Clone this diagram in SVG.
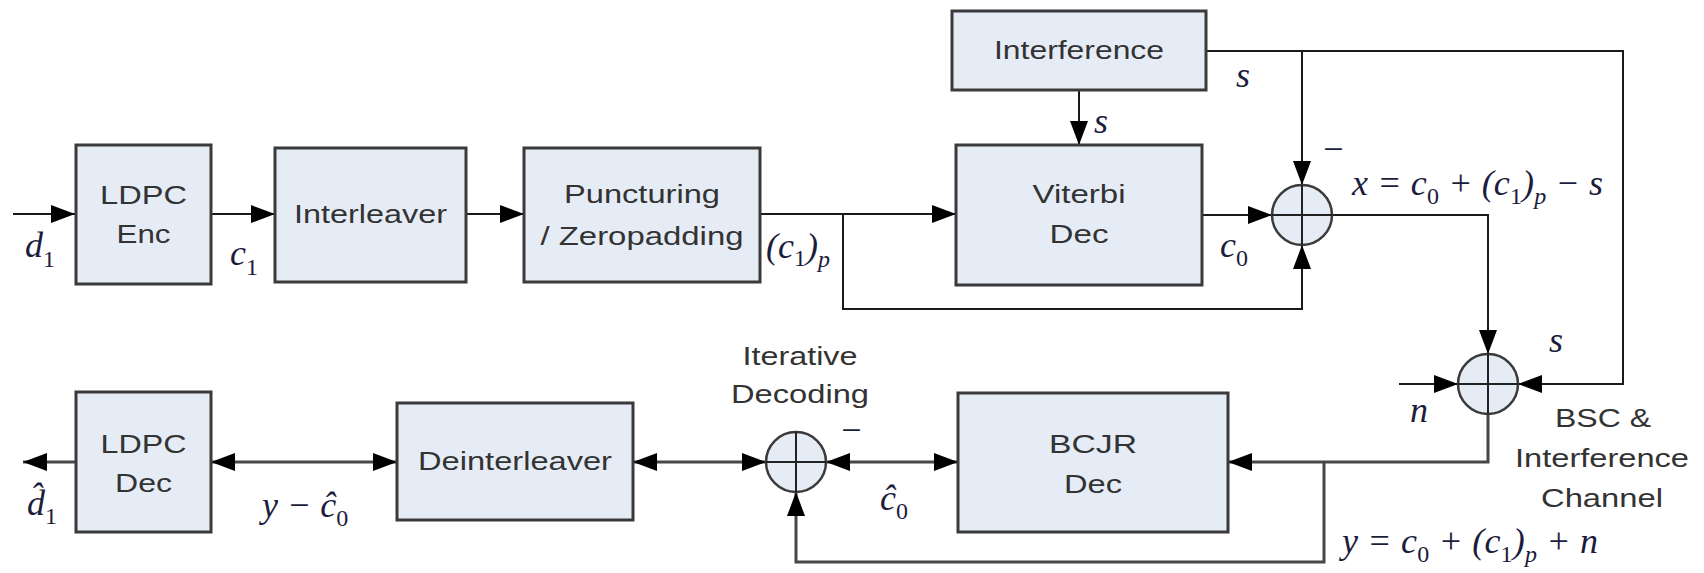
<svg xmlns="http://www.w3.org/2000/svg" width="1704" height="573" viewBox="0 0 1704 573">
  <style>
    .box { fill:#e6ecf6; stroke:#3a3a3a; stroke-width:3; }
    .sum { fill:#e6ecf6; stroke:#3a3a3a; stroke-width:2.5; }
    .x { stroke:#222; stroke-width:2; fill:none; }
    .lbl { font-family:"Liberation Sans", Arial, sans-serif; font-size:26px; fill:#333; text-anchor:middle; }
    .m { font-family:"Liberation Serif", "Times New Roman", serif; font-style:italic; font-size:36px; fill:#1c1c3c; }
    .sub { font-size:24px; }
    .up { font-style:normal; }
    .wire { fill:none; stroke:#1a1a1a; stroke-width:2; }
    .wire2 { fill:none; stroke:#474747; stroke-width:3; }
  </style>
  <defs>
    <marker id="ah" markerWidth="24" markerHeight="18" refX="24" refY="9" orient="auto-start-reverse" markerUnits="userSpaceOnUse">
      <path d="M0,0 L24,9 L0,18 Z" fill="#000"/>
    </marker>
  </defs>
  <rect width="1704" height="573" fill="#fff"/>

  <!-- connectors: transmitter / channel side (thin), receiver side (heavier) -->
  <g id="connectors">
    <line class="wire" x1="13" y1="214" x2="75" y2="214" marker-end="url(#ah)"/>
    <line class="wire" x1="212" y1="214" x2="275" y2="214" marker-end="url(#ah)"/>
    <line class="wire" x1="466" y1="214" x2="524" y2="214" marker-end="url(#ah)"/>
    <line class="wire" x1="760" y1="214" x2="956" y2="214" marker-end="url(#ah)"/>
    <polyline class="wire" points="843,214 843,309 1302,309 1302,245" marker-end="url(#ah)"/>
    <line class="wire" x1="1202" y1="215" x2="1272" y2="215" marker-end="url(#ah)"/>
    <line class="wire" x1="1079" y1="90" x2="1079" y2="145" marker-end="url(#ah)"/>
    <polyline class="wire" points="1206,51 1623,51 1623,384 1518,384" marker-end="url(#ah)"/>
    <line class="wire" x1="1302" y1="51" x2="1302" y2="185" marker-end="url(#ah)"/>
    <polyline class="wire" points="1332,215 1488,215 1488,354" marker-end="url(#ah)"/>
    <line class="wire" x1="1399" y1="384" x2="1458" y2="384" marker-end="url(#ah)"/>
    <polyline class="wire2" points="1488,414 1488,462 1228,462" marker-end="url(#ah)"/>
    <polyline class="wire2" points="1324,462 1324,562 796,562 796,492" marker-end="url(#ah)"/>
    <line class="wire2" x1="826" y1="462" x2="958" y2="462" marker-start="url(#ah)" marker-end="url(#ah)"/>
    <line class="wire2" x1="633" y1="462" x2="766" y2="462" marker-start="url(#ah)" marker-end="url(#ah)"/>
    <line class="wire2" x1="211" y1="462" x2="397" y2="462" marker-start="url(#ah)" marker-end="url(#ah)"/>
    <line class="wire2" x1="76" y1="462" x2="23" y2="462" marker-end="url(#ah)"/>
  </g>

  <!-- blocks -->
  <g id="ldpc-enc">
    <rect class="box" x="76" y="145" width="135" height="139"/>
    <text class="lbl" x="143.5" y="204" textLength="87" lengthAdjust="spacingAndGlyphs">LDPC</text>
    <text class="lbl" x="143.5" y="243" textLength="54" lengthAdjust="spacingAndGlyphs">Enc</text>
  </g>
  <g id="interleaver">
    <rect class="box" x="275" y="148" width="191" height="134"/>
    <text class="lbl" x="370.5" y="223" textLength="153" lengthAdjust="spacingAndGlyphs">Interleaver</text>
  </g>
  <g id="puncturing">
    <rect class="box" x="524" y="148" width="236" height="134"/>
    <text class="lbl" x="642" y="203" textLength="156" lengthAdjust="spacingAndGlyphs">Puncturing</text>
    <text class="lbl" x="642" y="245" textLength="203" lengthAdjust="spacingAndGlyphs">/ Zeropadding</text>
  </g>
  <g id="interference">
    <rect class="box" x="952" y="11" width="254" height="79"/>
    <text class="lbl" x="1079" y="59" textLength="170" lengthAdjust="spacingAndGlyphs">Interference</text>
  </g>
  <g id="viterbi-dec">
    <rect class="box" x="956" y="145" width="246" height="140"/>
    <text class="lbl" x="1079" y="203" textLength="93" lengthAdjust="spacingAndGlyphs">Viterbi</text>
    <text class="lbl" x="1079" y="243" textLength="59" lengthAdjust="spacingAndGlyphs">Dec</text>
  </g>
  <g id="sum-x">
    <circle class="sum" cx="1302" cy="215" r="30"/>
    <path class="x" d="M1272,215 H1332 M1302,185 V245"/>
  </g>
  <g id="sum-channel">
    <circle class="sum" cx="1488" cy="384" r="30"/>
    <path class="x" d="M1458,384 H1518 M1488,354 V414"/>
    <text class="lbl" x="1603" y="427" textLength="96" lengthAdjust="spacingAndGlyphs">BSC &amp;</text>
    <text class="lbl" x="1602" y="467" textLength="174" lengthAdjust="spacingAndGlyphs">Interference</text>
    <text class="lbl" x="1602" y="507" textLength="122" lengthAdjust="spacingAndGlyphs">Channel</text>
  </g>
  <g id="bcjr-dec">
    <rect class="box" x="958" y="393" width="270" height="139"/>
    <text class="lbl" x="1093" y="453" textLength="88" lengthAdjust="spacingAndGlyphs">BCJR</text>
    <text class="lbl" x="1093" y="493" textLength="58" lengthAdjust="spacingAndGlyphs">Dec</text>
  </g>
  <g id="sum-iterative">
    <circle class="sum" cx="796" cy="462" r="30"/>
    <path class="x" d="M766,462 H826 M796,432 V492"/>
    <text class="lbl" x="800" y="365" textLength="115" lengthAdjust="spacingAndGlyphs">Iterative</text>
    <text class="lbl" x="800" y="403" textLength="138" lengthAdjust="spacingAndGlyphs">Decoding</text>
  </g>
  <g id="deinterleaver">
    <rect class="box" x="397" y="403" width="236" height="117"/>
    <text class="lbl" x="515" y="470" textLength="194" lengthAdjust="spacingAndGlyphs">Deinterleaver</text>
  </g>
  <g id="ldpc-dec">
    <rect class="box" x="76" y="392" width="135" height="140"/>
    <text class="lbl" x="143.5" y="453" textLength="86" lengthAdjust="spacingAndGlyphs">LDPC</text>
    <text class="lbl" x="143.5" y="492" textLength="57" lengthAdjust="spacingAndGlyphs">Dec</text>
  </g>

  <!-- signal labels -->
  <g id="labels">
    <text class="m" x="25" y="257">d<tspan class="sub up" dy="10">1</tspan></text>
    <text class="m" x="230" y="265">c<tspan class="sub up" dy="10">1</tspan></text>
    <text class="m" x="766" y="258">(c<tspan class="sub up" dy="8">1</tspan><tspan dy="-8">)</tspan><tspan class="sub" dy="9">p</tspan></text>
    <text class="m" x="1220" y="257">c<tspan class="sub up" dy="9">0</tspan></text>
    <text class="m" x="1236" y="87">s</text>
    <text class="m" x="1094" y="133">s</text>
    <text class="m" x="1321" y="161">−</text>
    <text class="m" x="1352" y="195" textLength="251">x = c<tspan class="sub up" dy="9">0</tspan><tspan dy="-9"> + (c</tspan><tspan class="sub up" dy="9">1</tspan><tspan dy="-9">)</tspan><tspan class="sub" dy="9">p</tspan><tspan dy="-9"> − s</tspan></text>
    <text class="m" x="1549" y="352">s</text>
    <text class="m" x="1410" y="422">n</text>
    <text class="m" x="1342" y="553" textLength="256">y = c<tspan class="sub up" dy="9">0</tspan><tspan dy="-9"> + (c</tspan><tspan class="sub up" dy="9">1</tspan><tspan dy="-9">)</tspan><tspan class="sub" dy="9">p</tspan><tspan dy="-9"> + n</tspan></text>
    <text class="m" x="839" y="442">−</text>
    <text class="m" x="880" y="510">ĉ<tspan class="sub up" dy="9">0</tspan></text>
    <text class="m" x="262" y="517">y − ĉ<tspan class="sub up" dy="9">0</tspan></text>
    <text class="m" x="27" y="515">d&#x302;<tspan class="sub up" dy="9">1</tspan></text>
  </g>
</svg>
